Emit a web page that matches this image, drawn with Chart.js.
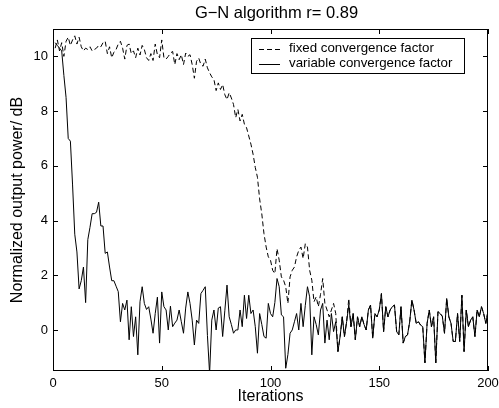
<!DOCTYPE html>
<html lang="en">
<head>
  <meta charset="UTF-8">
  <title>G-N algorithm r= 0.89</title>
  <style>
    html, body { margin: 0; padding: 0; background: #fff; }
    #wrap { width: 499px; height: 408px; }
  </style>
  <script src="https://cdn.jsdelivr.net/npm/chart.js"></script>
</head>
<body>
  <div id="wrap"><canvas id="chart" width="499" height="408"></canvas></div>

  <script>
    const titleText = 'G\u2212N algorithm r= 0.89';
    const xTitle = 'Iterations';
    const yTitle = 'Normalized output power/ dB';
    const seriesNames = ['fixed convergence factor', 'variable convergence factor'];

    const xTicks = [0, 50, 100, 150, 200];
    const yTicks = [0, 2, 4, 6, 8, 10];

    // one sample per iteration, 1..200
    const iterations = Array.from({ length: 200 }, (_, i) => i + 1);

    const fixedFactor = [
      10.3, 10.6, 10.2, 10.5, 10.0, 10.55, 10.7, 10.4, 10.6, 10.75,
      10.45, 10.7, 10.35, 10.2, 10.3, 10.25, 10.35, 10.2, 10.25, 10.3,
      10.4, 10.35, 10.5, 10.55, 10.1, 10.35, 9.95, 10.15, 10.25, 10.45,
      10.55, 10.3, 9.9, 10.4, 10.45, 10.1, 10.2, 9.95, 10.3, 10.05,
      10.4, 10.25, 9.95, 9.85, 10.1, 9.85, 10.45, 10.06, 9.95, 10.6,
      9.95, 9.9, 10.0, 10.12, 10.18, 9.7, 10.1, 9.88, 10.06, 9.7,
      10.12, 10.0, 10.06, 9.7, 9.2, 9.82, 9.94, 9.7, 9.64, 9.9,
      9.58, 9.4, 9.25, 9.15, 8.75, 9.03, 8.79, 8.97, 8.6, 8.42,
      8.67, 8.48, 8.24, 7.76, 8.06, 7.64, 7.88, 7.52, 7.39, 7.09,
      6.79, 6.42, 5.94, 5.58, 4.79, 4.24, 3.52, 3.03, 2.67, 2.55,
      2.18, 2.06, 2.97, 2.55, 1.94, 1.82, 1.58, 0.97, 1.94, 2.18,
      2.3, 2.67, 2.91, 3.03, 2.61, 3.15, 3.03, 2.18, 1.82, 1.03,
      1.21, 0.85, 1.3, 1.88, 0.97, 0.73, 0.48, 0.73, 0.97, 0.6,
      -0.79, -0.24, 0.48, -0.24, 0.3, 1.15, 0.12, 0.6, -0.36, 0.48,
      0.12, 0.48, 0.2, 0.0, 0.73, 0.91, -0.3, 0.6, 0.48, 0.73,
      1.33, -0.06, 0.85, 0.48, 0.73, 0.85, 0.91, -0.06, -0.18, 0.85,
      -0.48, -0.24, -0.18, 0.3, 1.09, 0.73, 0.24, 0.3, 0.18, 0.12,
      -1.2, 0.24, 0.73, 0.12, 0.48, -1.2, 0.67, 0.6, 0.5, -0.12,
      1.15, 0.48, 0.24, -0.42, -0.42, 0.6, -0.42, 1.27, -0.79, 0.73,
      0.12, 0.36, 0.48, -0.24, 0.73, 0.48, 0.85, 0.6, 0.24, 0.7
    ];

    const variableFactor = [
      10.5, 10.4, 10.3, 10.2, 9.3, 8.5, 7.0, 6.9, 5.3, 3.5,
      2.85, 1.5, 1.8, 2.3, 1.0, 3.3, 3.75, 4.25, 4.25, 4.3,
      4.67, 3.8, 3.8, 2.8, 2.85, 2.3, 1.8, 1.8, 1.6, 1.4,
      0.3, 0.97, 0.73, 1.09, -0.36, 0.85, -0.24, 0.48, -0.91, 1.03,
      1.58, 0.97, 0.75, 0.85, 0.4, -0.12, 0.6, 1.2, -0.48, 1.39,
      0.85, 0.73, 0.0, 0.87, 0.12, 0.25, 0.36, 0.73, 0.3, -0.12,
      0.8, 1.39, 0.97, 0.36, -0.55, 0.36, 0.24, 1.33, 1.45, 1.58,
      -0.2, -1.6, 0.36, 0.73, 0.0, 0.8, 0.85, -0.24, 0.7, 1.64,
      0.48, 0.2, -0.12, 0.0, 0.0, 0.73, 0.12, 1.27, 0.42, 1.27,
      0.6, 0.73, 0.12, -0.85, 0.6, 0.2, -0.24, -0.3, 0.97, 0.6,
      0.48, 1.0, 1.88, 1.58, 0.55, 0.48, -1.4, -0.9, -0.12, 0.0,
      0.3, 0.6, 0.0, 0.97, 0.12, 0.9, 1.58, 1.21, -0.91, 0.48,
      0.2, -0.18, 0.73, 0.97, -0.48, 0.36, -0.36, 0.6, -0.06, 0.3,
      -0.79, -0.24, 0.48, -0.24, 0.3, 0.91, 0.12, 0.6, -0.36, 0.48,
      0.12, 0.48, 0.2, 0.0, 0.73, 0.91, -0.3, 0.6, 0.48, 0.73,
      1.33, -0.06, 0.85, 0.48, 0.73, 0.85, 0.91, -0.06, -0.18, 0.85,
      -0.48, -0.24, -0.18, 0.3, 1.09, 0.73, 0.24, 0.3, 0.18, 0.12,
      -1.2, 0.24, 0.73, 0.12, 0.48, -1.2, 0.67, 0.6, 0.5, -0.12,
      1.15, 0.48, 0.24, -0.42, -0.42, 0.6, -0.42, 1.27, -0.79, 0.73,
      0.12, 0.36, 0.48, -0.24, 0.73, 0.48, 0.85, 0.6, 0.24, 0.7
    ];

    const FONT = '"Liberation Sans", Arial, Helvetica, sans-serif';
    const DASH = [5, 3];

    // MATLAB-like frame: box, inward ticks, title, legend box
    const matlabFrame = {
      id: 'matlabFrame',
      afterDatasetsDraw(chart) {
        const { ctx, chartArea: a, scales: { x, y } } = chart;
        ctx.save();
        ctx.strokeStyle = '#000';
        ctx.lineWidth = 1;
        ctx.setLineDash([]);
        ctx.strokeRect(a.left + 0.5, a.top + 0.5, a.right - a.left - 1, a.bottom - a.top - 1);

        const len = 5;
        ctx.beginPath();
        xTicks.forEach(v => {
          const px = Math.round(x.getPixelForValue(v)) + 0.5;
          ctx.moveTo(px, a.bottom); ctx.lineTo(px, a.bottom - len);
          ctx.moveTo(px, a.top); ctx.lineTo(px, a.top + len);
        });
        yTicks.forEach(v => {
          const py = Math.round(y.getPixelForValue(v)) + 0.5;
          ctx.moveTo(a.left, py); ctx.lineTo(a.left + len, py);
          ctx.moveTo(a.right, py); ctx.lineTo(a.right - len, py);
        });
        ctx.stroke();

        // title
        ctx.fillStyle = '#000';
        ctx.font = '16.5px ' + FONT;
        ctx.textAlign = 'center';
        ctx.textBaseline = 'middle';
        ctx.fillText(titleText, (a.left + a.right) / 2 + 6, 13);

        // legend
        const bx = 251, by = 38, bw = 213, bh = 35;
        ctx.fillStyle = '#fff';
        ctx.fillRect(bx, by, bw, bh);
        ctx.strokeRect(bx + 0.5, by + 0.5, bw, bh);
        ctx.font = '13.3px ' + FONT;
        ctx.textAlign = 'left';
        chart.data.datasets.forEach((ds, i) => {
          const ry = by + 10.5 + i * 15;
          ctx.beginPath();
          ctx.setLineDash(ds.borderDash || []);
          ctx.moveTo(259, Math.round(ry) + 0.5);
          ctx.lineTo(280, Math.round(ry) + 0.5);
          ctx.stroke();
          ctx.setLineDash([]);
          ctx.fillStyle = '#000';
          ctx.fillText(ds.label, 289, ry);
        });
        ctx.restore();
      }
    };

    new Chart(document.getElementById('chart'), {
      type: 'line',
      data: {
        datasets: [
          {
            label: seriesNames[0],
            data: iterations.map((it, i) => ({ x: it, y: fixedFactor[i] })),
            borderColor: '#000',
            borderWidth: 1,
            borderDash: DASH,
            pointRadius: 0,
            tension: 0
          },
          {
            label: seriesNames[1],
            data: iterations.map((it, i) => ({ x: it, y: variableFactor[i] })),
            borderColor: '#000',
            borderWidth: 1,
            pointRadius: 0,
            tension: 0
          }
        ]
      },
      options: {
        responsive: false,
        animation: false,
        events: [],
        layout: { padding: { top: 29, right: 11, left: 0, bottom: 0 } },
        plugins: {
          legend: { display: false },
          title: { display: false },
          tooltip: { enabled: false }
        },
        scales: {
          x: {
            type: 'linear',
            min: 0,
            max: 200,
            afterBuildTicks: s => { s.ticks = xTicks.map(v => ({ value: v })); },
            afterFit: s => { s.height = 37; s.paddingLeft = 0; s.paddingRight = 0; },
            grid: { display: false, drawTicks: false },
            border: { display: false },
            ticks: { color: '#000', padding: 5, font: { family: FONT, size: 13 }, maxRotation: 0 },
            title: {
              display: true, text: xTitle, color: '#000',
              font: { family: FONT, size: 16 }, padding: { top: 0, bottom: 2 }
            }
          },
          y: {
            type: 'linear',
            min: -1.5,
            max: 11,
            afterBuildTicks: s => { s.ticks = yTicks.map(v => ({ value: v })); },
            afterFit: s => { s.width = 53; s.paddingTop = 0; s.paddingBottom = 0; },
            grid: { display: false, drawTicks: false },
            border: { display: false },
            ticks: { color: '#000', padding: 5, font: { family: FONT, size: 13 } },
            title: {
              display: true, text: yTitle, color: '#000',
              font: { family: FONT, size: 16 }, padding: { top: 8, bottom: 0 }
            }
          }
        }
      },
      plugins: [matlabFrame]
    });
  </script>
</body>
</html>
